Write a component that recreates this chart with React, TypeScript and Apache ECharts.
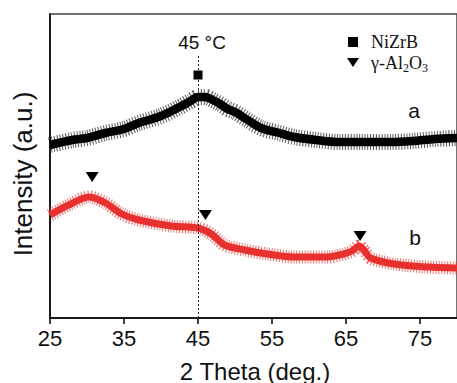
import React, { useEffect, useRef } from "react";
import * as echarts from "echarts";

// 2θ positions and intensities (arbitrary units)
const thetaA = [25, 28, 30, 32.5, 35, 37, 40, 42.5, 44, 45, 46, 47, 48, 49, 50, 51.5, 53.5, 56, 58, 61, 64, 67, 71, 74, 77, 80];
const intensityA = [173, 178, 180, 185, 189, 195, 202, 211, 217, 221, 221, 218, 214, 209, 206, 199, 190, 185, 181, 178, 176, 176, 176, 177, 179, 180];

const thetaB = [25, 27.5, 30.3, 32.5, 34.7, 37, 41.4, 45, 46.8, 48.6, 51.3, 54.4, 58, 62.5, 64.7, 65.8, 66.8, 67.5, 68.3, 71.5, 76, 80];
const intensityB = [103, 113, 121, 115, 104, 98, 92, 90, 84, 73, 68, 64, 61, 61, 64, 67, 72, 67, 60, 54, 51, 50];

const nizrbMarks = [[45, 243]];
const aluminaMarks = [[30.7, 141], [46.0, 103], [66.9, 82]];

const xTicks = [25, 35, 45, 55, 65, 75];
const refLine = 45;

const RED = "#e8302e";
const SANS = "Liberation Sans, Arial, sans-serif";
const SERIF = "Liberation Serif, Times New Roman, serif";

function measure(text: string, size: number, family: string) {
  const c = document.createElement("canvas").getContext("2d");
  if (!c) return text.length * size * 0.5;
  c.font = `${size}px ${family}`;
  return c.measureText(text).width;
}

export default function App() {
  const ref = useRef<HTMLDivElement>(null);
  useEffect(() => {
    if (!ref.current) return;
    const chart = echarts.init(ref.current, null, { renderer: "svg" });
    const lineA = thetaA.map((t, i) => [t, intensityA[i]]);
    const lineB = thetaB.map((t, i) => [t, intensityB[i]]);

    // legend pieces for γ-Al2O3
    const lx = 371;
    const ly = 63;
    const w1 = measure("γ-Al", 18, SERIF);
    const w2 = measure("2", 12, SERIF);
    const w3 = measure("O", 18, SERIF);
    const serifText = (x: number, y: number, text: string, size: number) => ({
      type: "text",
      x,
      y,
      style: { text, fontSize: size, fontFamily: SERIF, fill: "#111", align: "left", verticalAlign: "middle" },
    });

    chart.setOption({
      animation: false,
      textStyle: { fontFamily: SANS },
      grid: {
        left: 50,
        top: 14,
        width: 411,
        height: 304,
        show: true,
        borderColor: "#444",
        borderWidth: 1.5,
      },
      xAxis: {
        type: "value",
        min: 25,
        max: 80,
        splitLine: { show: false },
        axisLine: { show: true, lineStyle: { color: "#000", width: 1.5 } },
        axisTick: { show: true, inside: false, length: 6, lineStyle: { color: "#000", width: 1.5 }, customValues: xTicks },
        axisLabel: { customValues: xTicks, fontSize: 22, color: "#111", margin: 9, fontFamily: SANS },
      },
      yAxis: {
        type: "value",
        min: 0,
        max: 304,
        splitLine: { show: false },
        axisLine: { show: true, lineStyle: { color: "#000", width: 1.5 } },
        axisTick: { show: false },
        axisLabel: { show: false },
      },
      series: [
        {
          type: "line",
          data: lineA,
          smooth: 0.3,
          showSymbol: false,
          lineStyle: { color: "rgba(0,0,0,0.65)", width: 16, type: [1, 1.8] },
          z: 2,
        },
        {
          type: "line",
          data: lineA,
          smooth: 0.3,
          showSymbol: false,
          lineStyle: { color: "#000", width: 8.5 },
          z: 3,
        },
        {
          type: "line",
          data: lineB,
          smooth: 0.3,
          showSymbol: false,
          lineStyle: { color: "rgba(232,48,46,0.7)", width: 13, type: [1, 1.8] },
          z: 2,
        },
        {
          type: "line",
          data: lineB,
          smooth: 0.3,
          showSymbol: false,
          lineStyle: { color: RED, width: 7 },
          z: 3,
          markLine: {
            silent: true,
            symbol: "none",
            label: { show: false },
            lineStyle: { color: "#222", type: [2, 2], width: 1 },
            data: [[{ coord: [refLine, 0] }, { coord: [refLine, 263] }]],
          },
        },
        {
          type: "scatter",
          data: nizrbMarks,
          symbol: "rect",
          symbolSize: 9,
          itemStyle: { color: "#000", opacity: 1 },
          z: 5,
        },
        {
          type: "scatter",
          data: aluminaMarks,
          symbol: "triangle",
          symbolRotate: 180,
          symbolSize: [13, 10],
          itemStyle: { color: "#000", opacity: 1 },
          z: 5,
        },
      ],
      graphic: [
        {
          type: "text",
          x: 23,
          y: 174,
          rotation: Math.PI / 2,
          style: { text: "Intensity (a.u.)", fontSize: 26, fontFamily: SANS, fill: "#111", align: "center", verticalAlign: "middle" },
        },
        {
          type: "text",
          x: 255,
          y: 371,
          style: { text: "2 Theta (deg.)", fontSize: 24, fontFamily: SANS, fill: "#111", align: "center", verticalAlign: "middle" },
        },
        {
          type: "text",
          x: 202,
          y: 42,
          style: { text: "45 °C", fontSize: 19, fontFamily: SANS, fill: "#111", align: "center", verticalAlign: "middle" },
        },
        {
          type: "text",
          x: 414,
          y: 110,
          style: { text: "a", fontSize: 21, fontFamily: SANS, fill: "#111", align: "center", verticalAlign: "middle" },
        },
        {
          type: "text",
          x: 415,
          y: 237,
          style: { text: "b", fontSize: 21, fontFamily: SANS, fill: "#111", align: "center", verticalAlign: "middle" },
        },
        { type: "rect", shape: { x: 348, y: 37, width: 10, height: 10 }, style: { fill: "#000" } },
        { type: "polygon", shape: { points: [[347, 58], [359, 58], [353, 67]] }, style: { fill: "#000" } },
        serifText(lx, 42, "NiZrB", 18),
        serifText(lx, ly, "γ-Al", 18),
        serifText(lx + w1, ly + 5, "2", 12),
        serifText(lx + w1 + w2, ly, "O", 18),
        serifText(lx + w1 + w2 + w3, ly + 5, "3", 12),
      ],
    });
    return () => chart.dispose();
  }, []);
  return (
    <div
      ref={ref}
      style={{ position: "fixed", left: 0, top: 0, width: 457, height: 383, background: "#fff" }}
    />
  );
}
